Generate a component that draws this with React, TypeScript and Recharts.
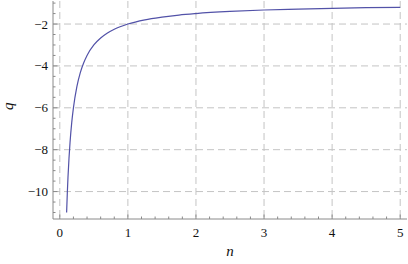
import { CartesianGrid, Line, LineChart, XAxis, YAxis } from "recharts";

const nValues = [0.1, 0.11, 0.12, 0.135, 0.15, 0.175, 0.2, 0.25, 0.3, 0.35, 0.4, 0.5, 0.6, 0.7, 0.8, 1, 1.25, 1.5, 1.75, 2, 2.5, 3, 3.5, 4, 4.5, 5];
const qValues = [-11, -10.09, -9.33, -8.41, -7.67, -6.71, -6, -5, -4.33, -3.86, -3.5, -3, -2.67, -2.43, -2.25, -2, -1.8, -1.67, -1.57, -1.5, -1.4, -1.33, -1.29, -1.25, -1.22, -1.2];

const xMajor = [0, 1, 2, 3, 4, 5];
const yMajor = [-10, -8, -6, -4, -2];
const xTicks = [0, 0.2, 0.4, 0.6, 0.8, 1, 1.2, 1.4, 1.6, 1.8, 2, 2.2, 2.4, 2.6, 2.8, 3, 3.2, 3.4, 3.6, 3.8, 4, 4.2, 4.4, 4.6, 4.8, 5];
const yTicks = [-11, -10.5, -10, -9.5, -9, -8.5, -8, -7.5, -7, -6.5, -6, -5.5, -5, -4.5, -4, -3.5, -3, -2.5, -2, -1.5, -1];

const data = nValues.map((n, i) => ({ n, q: qValues[i] }));

const FRAME = "#8a8a8a";
const FONT = "Liberation Serif";

const isMajor = (v: number, majors: number[]) => majors.some((m) => Math.abs(m - v) < 1e-6);
const fmt = (v: number) => (v < 0 ? "\u2212" + Math.abs(v) : String(v));

function BottomTick(props: any) {
  const { x, y, payload } = props;
  const major = isMajor(payload.value, xMajor);
  return (
    <g>
      <line x1={x} x2={x} y1={y} y2={y - (major ? 4.5 : 2.5)} stroke={FRAME} />
      {major && (
        <text x={x} y={y + 18} textAnchor="middle" fontFamily={FONT} fontSize={13} fill="#111">
          {fmt(payload.value)}
        </text>
      )}
    </g>
  );
}

function TopTick(props: any) {
  const { x, y, payload } = props;
  const major = isMajor(payload.value, xMajor);
  return <line x1={x} x2={x} y1={y} y2={y + (major ? 4.5 : 2.5)} stroke={FRAME} />;
}

function LeftTick(props: any) {
  const { x, y, payload } = props;
  const major = isMajor(payload.value, yMajor);
  return (
    <g>
      <line x1={x} x2={x + (major ? 4.5 : 2.5)} y1={y} y2={y} stroke={FRAME} />
      {major && (
        <text x={x - 5} y={y + 4.5} textAnchor="end" fontFamily={FONT} fontSize={13} fill="#111">
          {fmt(payload.value)}
        </text>
      )}
    </g>
  );
}

function RightTick(props: any) {
  const { x, y, payload } = props;
  const major = isMajor(payload.value, yMajor);
  return <line x1={x} x2={x - (major ? 4.5 : 2.5)} y1={y} y2={y} stroke={FRAME} />;
}

const labelStyle = { fontStyle: "italic", fontFamily: FONT, fontSize: 15, fill: "#111" };

export default function App() {
  return (
    <div style={{ position: "absolute", left: 0, top: 0, background: "#fff" }}>
      <LineChart width={408} height={264} data={data} margin={{ top: 1, right: 1, left: 0, bottom: 0 }}>
        <CartesianGrid
          horizontalValues={yMajor}
          verticalValues={xMajor}
          stroke="#c4c4c4"
          strokeDasharray="7 4"
        />
        <XAxis
          dataKey="n"
          type="number"
          domain={[-0.1, 5.1]}
          allowDataOverflow
          ticks={xTicks}
          interval={0}
          height={45}
          tickSize={0}
          tickMargin={0}
          tickLine={false}
          axisLine={{ stroke: FRAME }}
          tick={<BottomTick />}
          label={{ value: "n", position: "insideBottom", offset: 8, style: labelStyle }}
        />
        <XAxis
          xAxisId="top"
          orientation="top"
          type="number"
          domain={[-0.1, 5.1]}
          allowDataOverflow
          ticks={xTicks}
          interval={0}
          height={0}
          tickSize={0}
          tickMargin={0}
          tickLine={false}
          axisLine={{ stroke: FRAME }}
          tick={<TopTick />}
        />
        <YAxis
          type="number"
          domain={[-11.31, -0.9]}
          allowDataOverflow
          ticks={yTicks}
          interval={0}
          width={53}
          tickSize={0}
          tickMargin={0}
          tickLine={false}
          axisLine={{ stroke: FRAME }}
          tick={<LeftTick />}
          label={{ value: "q", angle: -90, position: "insideLeft", offset: 8, style: labelStyle }}
        />
        <YAxis
          yAxisId="right"
          orientation="right"
          type="number"
          domain={[-11.31, -0.9]}
          allowDataOverflow
          ticks={yTicks}
          interval={0}
          width={0}
          tickSize={0}
          tickMargin={0}
          tickLine={false}
          axisLine={{ stroke: FRAME }}
          tick={<RightTick />}
        />
        <Line
          type="monotone"
          dataKey="q"
          stroke="#5252a8"
          strokeWidth={1.2}
          dot={false}
          isAnimationActive={false}
        />
      </LineChart>
    </div>
  );
}
